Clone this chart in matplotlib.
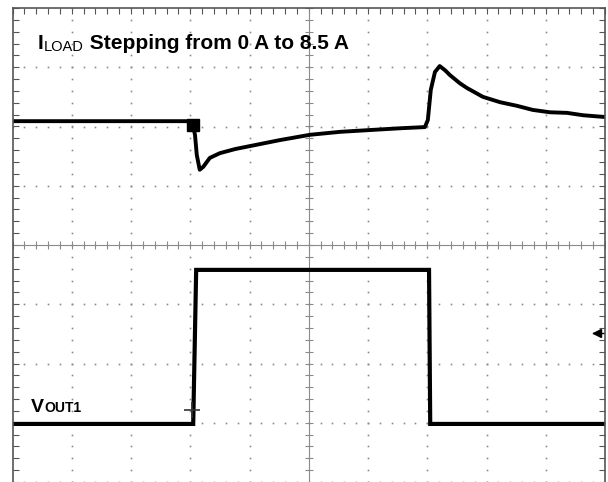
import numpy as np
import matplotlib
matplotlib.use("Agg")
from matplotlib import pyplot as plt

# screen is 10 x 8 divisions, values in divisions (0 = centre line)
# channel 1: VOUT1 (ac coupled)
vout_x = [0.0, 2.93, 3.03, 3.08, 3.11, 3.16, 3.22, 3.33, 3.50, 3.76, 4.01, 4.51,
          5.02, 5.53, 6.03, 6.54, 6.96, 7.01, 7.06, 7.13, 7.21, 7.30, 7.38, 7.55,
          7.67, 7.94, 8.23, 8.51, 8.78, 9.07, 9.36, 9.63, 10.0]
vout_y = [2.09, 2.09, 2.08, 1.86, 1.52, 1.27, 1.32, 1.47, 1.55, 1.62, 1.67, 1.77,
          1.86, 1.91, 1.94, 1.97, 1.99, 2.11, 2.62, 2.92, 3.02, 2.95, 2.87, 2.73,
          2.65, 2.50, 2.41, 2.35, 2.28, 2.24, 2.23, 2.19, 2.16]

# channel 2: load current step
iload_x = [0.0, 3.05, 3.10, 7.03, 7.05, 10.0]
iload_y = [-3.02, -3.02, -0.42, -0.42, -3.02, -3.02]

trig_x, trig_y = 3.05, 2.02
ref_x, ref_y = 3.03, -2.78
arrow_y = -1.49

fig = plt.figure(figsize=(6.08, 4.82), dpi=100)
ax = fig.add_axes([12.5/608, 0, (605-12.5)/608, 1-8/482])
ax.set_xlim(0, 10)
ax.set_ylim(-4, 4)

grid_c = "#8a8a8a"
fine = np.arange(0, 10.01, 0.2)
fine_y = np.arange(-4, 4.01, 0.2)
for gx in range(1, 10):
    if gx == 5:
        continue
    ax.plot(np.full_like(fine_y, gx), fine_y, ls="none", marker="s", ms=1.2,
            color=grid_c, mew=0)
for gy in range(-4, 4):
    if gy == 0:
        continue
    ax.plot(fine, np.full_like(fine, gy), ls="none", marker="s", ms=1.2,
            color=grid_c, mew=0)

# centre cross with small ticks
ax.axvline(5, color=grid_c, lw=0.8)
ax.axhline(0, color=grid_c, lw=0.8)
ax.plot(np.full_like(fine_y, 5), fine_y, ls="none", marker="_", ms=6,
        color=grid_c, mew=0.8)
ax.plot(fine, np.zeros_like(fine), ls="none", marker="|", ms=6,
        color=grid_c, mew=0.8)

ax.plot(vout_x, vout_y, color="black", lw=2.8, solid_joinstyle="round")
ax.plot(iload_x, iload_y, color="black", lw=3.0, solid_joinstyle="miter")
ax.plot(trig_x, trig_y, marker="s", ms=9, color="black")
ax.plot(ref_x, ref_y, marker="+", ms=11, mew=1.2, color="#333333")
ax.plot([9.8, 10.0], [arrow_y, arrow_y], color="black", lw=1)
ax.plot(9.86, arrow_y, marker="<", ms=6, color="black")

for s in ["left", "top", "right"]:
    ax.spines[s].set_color("#555555")
    ax.spines[s].set_linewidth(1.2)
ax.spines["bottom"].set_visible(False)
ax.set_xticks(np.arange(0, 10.01, 0.2))
ax.set_yticks(np.arange(-4, 4.01, 0.2))
ax.tick_params(direction="in", length=4, width=0.8, color="#555555",
               labelleft=False, labelbottom=False, bottom=False,
               top=True, right=True)

font = "Liberation Sans"
renderer = fig.canvas.get_renderer()

def put(x, y, s, size, weight):
    t = fig.text(x/608, 1-y/482, s, fontsize=size, fontweight=weight,
                 family=font, va="baseline", ha="left")
    bb = t.get_window_extent(renderer)
    return bb.x1

# label: I_LOAD Stepping from 0 A to 8.5 A
x = put(38, 49, "I", 15, "bold")
x = put(x, 51, "LOAD", 10.5, "normal")
put(x, 49, " Stepping from 0 A to 8.5 A", 15, "bold")

x = put(31, 412, "V", 14, "bold")
put(x, 412, "OUT1", 10, "bold")

fig.savefig("out.png", dpi=100)
